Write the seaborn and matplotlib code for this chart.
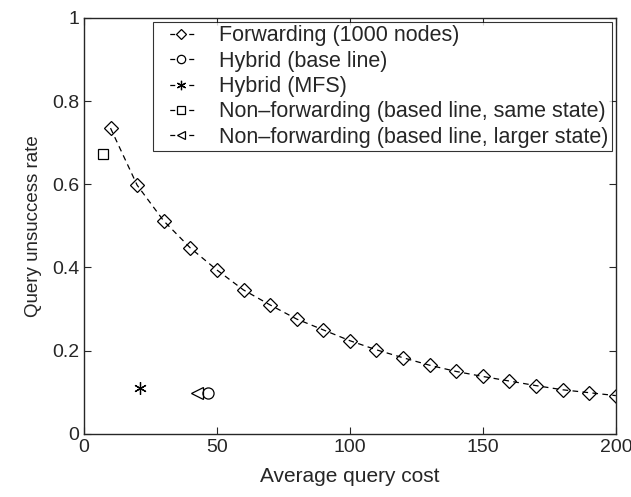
import matplotlib
matplotlib.use('Agg')
import matplotlib.pyplot as plt
import seaborn as sns

# Forwarding curve
fwd_cost = [10, 20, 30, 40, 50, 60, 70, 80, 90, 100, 110, 120, 130, 140, 150, 160, 170, 180, 190, 200]
fwd_rate = [0.735, 0.598, 0.512, 0.447, 0.394, 0.346, 0.310, 0.276, 0.250, 0.224,
            0.202, 0.183, 0.165, 0.150, 0.138, 0.127, 0.116, 0.106, 0.099, 0.092]

# single points
hyb_base_cost = [46.7]
hyb_base_rate = [0.099]
hyb_mfs_cost = [21]
hyb_mfs_rate = [0.110]
nf_same_cost = [7.1]
nf_same_rate = [0.673]
nf_large_cost = [42.5]
nf_large_rate = [0.099]

sns.set_style('ticks')
plt.rcParams['font.family'] = ['Liberation Sans', 'DejaVu Sans']

fig = plt.figure(figsize=(6.31, 4.97), dpi=100)
ax = fig.add_axes([0.133, 0.127, 0.843, 0.837])

series = [
    (fwd_cost, fwd_rate, 'D', 7, 'Forwarding (1000 nodes)'),
    (hyb_base_cost, hyb_base_rate, 'o', 8, 'Hybrid (base line)'),
    (hyb_mfs_cost, hyb_mfs_rate, (6, 2, 0), 9, 'Hybrid (MFS)'),
    (nf_same_cost, nf_same_rate, 's', 7, 'Non\u2013forwarding (based line, same state)'),
    (nf_large_cost, nf_large_rate, '<', 8, 'Non\u2013forwarding (based line, larger state)'),
]
for xs, ys, mk, ms, lab in series:
    sns.lineplot(x=xs, y=ys, ax=ax, color='black', linewidth=0.9,
                 marker=mk, markersize=ms, markerfacecolor='none',
                 markeredgecolor='black', markeredgewidth=0.9, label=lab)
for ln in ax.lines:
    ln.set_dashes((4.5, 3.5))

ax.set_xlim(0, 200)
ax.set_ylim(0, 1)
ax.set_xticks([0, 50, 100, 150, 200])
ax.set_yticks([0, 0.2, 0.4, 0.6, 0.8, 1])
ax.set_yticklabels(['0', '0.2', '0.4', '0.6', '0.8', '1'])
ax.tick_params(direction='in', top=True, right=True, labelsize=14, length=5, width=0.8)
for s in ax.spines.values():
    s.set_visible(True)
    s.set_linewidth(1.0)
ax.set_xlabel('Average query cost', fontsize=15, labelpad=8)
ax.set_ylabel('Query unsuccess rate', fontsize=13.5, labelpad=7)

leg = ax.legend(loc='upper right', fontsize=15.5, frameon=True, fancybox=False,
                edgecolor='black', handlelength=2.3, handletextpad=0.6,
                borderpad=0.15, labelspacing=0.2, borderaxespad=0.2,
                markerscale=0.75)
leg.get_frame().set_linewidth(0.8)
# short dash on each side of the marker, like "- o -"
for h in leg.get_lines():
    h.set_linestyle((5.0, (4.0, 11.2)))

fig.savefig('out.png', dpi=100)
